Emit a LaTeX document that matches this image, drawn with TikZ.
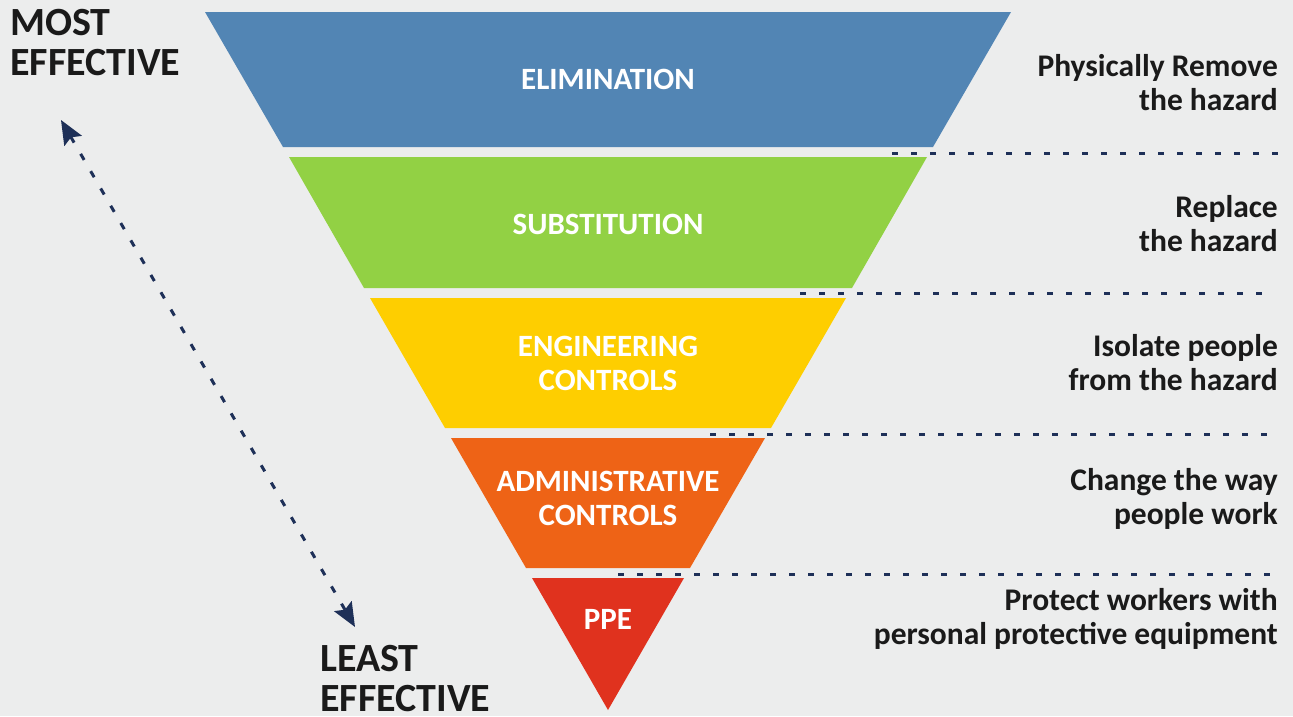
\documentclass[tikz,border=0pt]{standalone}
\usepackage{fontspec}
\setmainfont{Carlito}
\usetikzlibrary{arrows.meta}
\definecolor{bgray}{HTML}{ECEDED}
\definecolor{navy}{HTML}{1E3058}
\definecolor{elimblue}{HTML}{5285B4}
\definecolor{subgreen}{HTML}{92D144}
\definecolor{engyellow}{HTML}{FECE00}
\definecolor{admorange}{HTML}{EE6316}
\definecolor{ppered}{HTML}{E0321E}
\definecolor{ink}{HTML}{1A1A1A}
\begin{document}
\begin{tikzpicture}[x=1pt, y=-1pt, line join=round,
		bandtext/.style={text=white, font=\bfseries\fontsize{31}{34}\selectfont, align=center, inner sep=0pt},
		sidetext/.style={text=ink, font=\bfseries\fontsize{31.5}{34}\selectfont, align=right, anchor=east, inner sep=0pt},
		endtext/.style={text=ink, font=\bfseries\fontsize{40}{40}\selectfont, align=left, anchor=north west, inner sep=0pt},
		divider/.style={navy, line width=3pt, dash pattern=on 6pt off 13pt},
		scale arrow/.style={navy, line width=3pt, dash pattern=on 7pt off 13pt, {Stealth[length=24pt, width=20pt, inset=4pt]}-{Stealth[length=24pt, width=20pt, inset=4pt]}}]
	\fill[bgray] (0,0) rectangle (1293,716);
	\useasboundingbox (0,0) rectangle (1293,716);
	% bands of the funnel
	\coordinate (A1) at (205,12);   \coordinate (A2) at (1011,12);
	\coordinate (A3) at (933,147);  \coordinate (A4) at (283,147);
	\coordinate (B1) at (289,157);  \coordinate (B2) at (927,157);
	\coordinate (B3) at (852,288);  \coordinate (B4) at (364,288);
	\coordinate (C1) at (370,298);  \coordinate (C2) at (846,298);
	\coordinate (C3) at (771,428);  \coordinate (C4) at (445,428);
	\coordinate (D1) at (451,438);  \coordinate (D2) at (765,438);
	\coordinate (D3) at (690,568);  \coordinate (D4) at (526,568);
	\coordinate (P1) at (532,578);  \coordinate (P2) at (684,578);
	\coordinate (P3) at (608,710);
	\fill[elimblue] (A1)--(A2)--(A3)--(A4)--cycle;
	\fill[subgreen] (B1)--(B2)--(B3)--(B4)--cycle;
	\fill[engyellow] (C1)--(C2)--(C3)--(C4)--cycle;
	\fill[admorange] (D1)--(D2)--(D3)--(D4)--cycle;
	\fill[ppered] (P1)--(P2)--(P3)--cycle;
	\node[bandtext] (elim) at (608,79) {ELIMINATION};
	\node[bandtext] (subst) at (608,224) {SUBSTITUTION};
	\node[bandtext] (eng) at (608,363) {ENGINEERING\\CONTROLS};
	\node[bandtext] (adm) at (608,498) {ADMINISTRATIVE\\CONTROLS};
	\node[bandtext] (ppe) at (608,619) {PPE};
	% dotted dividers
	\coordinate (L1) at (892,153);  \coordinate (R1) at (1282,153);
	\coordinate (L2) at (800,293);  \coordinate (R2) at (1270,293);
	\coordinate (L3) at (710,434);  \coordinate (R3) at (1276,434);
	\coordinate (L4) at (618,574);  \coordinate (R4) at (1282,574);
	\draw[divider] (L1)--(R1);
	\draw[divider] (L2)--(R2);
	\draw[divider] (L3)--(R3);
	\draw[divider] (L4)--(R4);
	% descriptions
	\node[sidetext] (remove) at (1278,83) {Physically Remove\\the hazard};
	\node[sidetext] (replace) at (1278,224) {Replace\\the hazard};
	\node[sidetext] (isolate) at (1278,363) {Isolate people\\from the hazard};
	\node[sidetext] (change) at (1278,499) {Change the way\\people work};
	\node[sidetext] (protect) at (1278,619) {Protect workers with\\personal protective equipment};
	% effectiveness scale
	\node[endtext] (most) at (10,9) {MOST\\EFFECTIVE};
	\node[endtext] (least) at (320,645) {LEAST\\EFFECTIVE};
	\coordinate (top) at (61,120);
	\coordinate (bot) at (355,627);
	\draw[scale arrow] (top)--(bot);
\end{tikzpicture}
\end{document}
